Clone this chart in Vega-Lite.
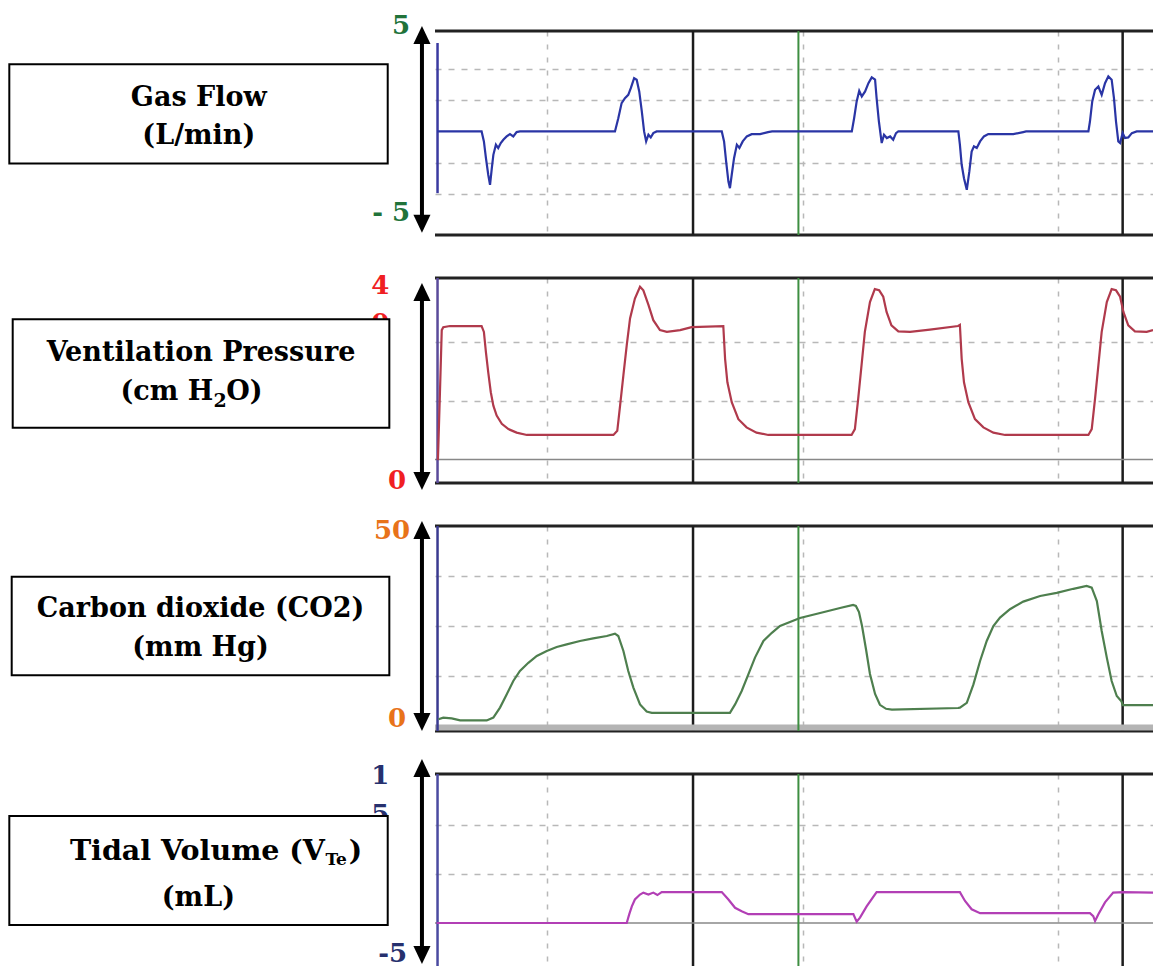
{
"$schema": "https://vega.github.io/schema/vega-lite/v6.json",
"padding": 0,
"background": "white",
"config": {"view": {"stroke": null}},
"datasets": {
"flow": [
{"t":0.570,"v":0},{"t":0.744,"v":0},{"t":0.753,"v":-0.48},{"t":0.761,"v":-1.29},{"t":0.770,"v":-2.09},{"t":0.777,"v":-2.58},{"t":0.784,"v":-1.77},{"t":0.790,"v":-1.13},{"t":0.800,"v":-0.64},{"t":0.809,"v":-0.8},{"t":0.819,"v":-0.56},{"t":0.829,"v":-0.4},{"t":0.842,"v":-0.24},{"t":0.855,"v":-0.13},{"t":0.868,"v":-0.24},{"t":0.881,"v":-0.03},{"t":0.894,"v":0},
{"t":1.266,"v":0},{"t":1.279,"v":0.64},{"t":1.292,"v":1.37},{"t":1.305,"v":1.61},{"t":1.318,"v":1.77},{"t":1.328,"v":2.09},{"t":1.341,"v":2.57},{"t":1.351,"v":2.5},{"t":1.361,"v":1.93},{"t":1.371,"v":0.97},{"t":1.380,"v":0},{"t":1.388,"v":-0.48},{"t":1.397,"v":-0.16},{"t":1.406,"v":-0.29},{"t":1.416,"v":-0.08},{"t":1.429,"v":0},
{"t":1.684,"v":0},{"t":1.693,"v":-0.48},{"t":1.701,"v":-1.45},{"t":1.710,"v":-2.42},{"t":1.716,"v":-2.74},{"t":1.723,"v":-2.09},{"t":1.732,"v":-1.29},{"t":1.743,"v":-0.64},{"t":1.753,"v":-0.8},{"t":1.766,"v":-0.48},{"t":1.782,"v":-0.24},{"t":1.801,"v":-0.13},{"t":1.834,"v":-0.13},{"t":1.865,"v":-0.03},{"t":1.881,"v":0},
{"t":2.193,"v":0},{"t":2.202,"v":0.64},{"t":2.212,"v":1.45},{"t":2.222,"v":1.96},{"t":2.232,"v":1.69},{"t":2.245,"v":1.93},{"t":2.258,"v":2.33},{"t":2.271,"v":2.61},{"t":2.284,"v":2.5},{"t":2.290,"v":1.61},{"t":2.299,"v":0.48},{"t":2.310,"v":-0.56},{"t":2.319,"v":-0.16},{"t":2.330,"v":-0.32},{"t":2.343,"v":-0.24},{"t":2.355,"v":-0.4},{"t":2.366,"v":-0.08},{"t":2.375,"v":0},
{"t":2.610,"v":0},{"t":2.616,"v":-0.64},{"t":2.623,"v":-1.61},{"t":2.632,"v":-2.26},{"t":2.643,"v":-2.82},{"t":2.653,"v":-1.93},{"t":2.662,"v":-0.97},{"t":2.671,"v":-0.72},{"t":2.682,"v":-0.8},{"t":2.695,"v":-0.48},{"t":2.710,"v":-0.24},{"t":2.727,"v":-0.13},{"t":2.825,"v":-0.13},{"t":2.864,"v":-0.03},{"t":2.875,"v":0},
{"t":3.119,"v":0},{"t":3.125,"v":0.48},{"t":3.134,"v":1.45},{"t":3.145,"v":2.01},{"t":3.158,"v":2.17},{"t":3.171,"v":1.77},{"t":3.184,"v":2.33},{"t":3.197,"v":2.66},{"t":3.210,"v":2.5},{"t":3.219,"v":1.61},{"t":3.227,"v":0.48},{"t":3.236,"v":-0.48},{"t":3.243,"v":-0.56},{"t":3.253,"v":-0.08},{"t":3.262,"v":-0.32},{"t":3.275,"v":-0.29},{"t":3.289,"v":-0.08},{"t":3.308,"v":0},{"t":3.372,"v":0}
],
"pressure": [
{"t":0.573,"v":3.9},{"t":0.581,"v":15.5},{"t":0.588,"v":26.1},{"t":0.594,"v":26.6},{"t":0.620,"v":26.8},{"t":0.744,"v":26.8},{"t":0.753,"v":25.8},{"t":0.761,"v":22.3},{"t":0.770,"v":18.9},{"t":0.780,"v":15.5},{"t":0.790,"v":13.2},{"t":0.803,"v":11.5},{"t":0.823,"v":10.1},{"t":0.849,"v":9.2},{"t":0.881,"v":8.6},{"t":0.921,"v":8.2},
{"t":1.260,"v":8.2},{"t":1.275,"v":8.9},{"t":1.286,"v":13.2},{"t":1.299,"v":18.4},{"t":1.312,"v":23.5},{"t":1.325,"v":28.1},{"t":1.344,"v":31.5},{"t":1.364,"v":33.5},{"t":1.377,"v":32.9},{"t":1.397,"v":30.4},{"t":1.416,"v":27.8},{"t":1.442,"v":26.1},{"t":1.469,"v":25.8},{"t":1.521,"v":26.1},{"t":1.566,"v":26.6},
{"t":1.690,"v":26.8},{"t":1.697,"v":21.2},{"t":1.706,"v":17.2},{"t":1.723,"v":13.8},{"t":1.749,"v":10.9},{"t":1.781,"v":9.5},{"t":1.820,"v":8.6},{"t":1.866,"v":8.2},
{"t":2.192,"v":8.2},{"t":2.205,"v":9.2},{"t":2.218,"v":14.4},{"t":2.231,"v":20.1},{"t":2.244,"v":25.8},{"t":2.264,"v":30.9},{"t":2.283,"v":33.1},{"t":2.300,"v":32.9},{"t":2.316,"v":31.8},{"t":2.329,"v":29.2},{"t":2.348,"v":26.9},{"t":2.375,"v":25.9},{"t":2.421,"v":25.8},{"t":2.499,"v":26.2},{"t":2.609,"v":26.8},
{"t":2.616,"v":27.0},{"t":2.623,"v":21.2},{"t":2.632,"v":17.2},{"t":2.649,"v":13.8},{"t":2.675,"v":10.9},{"t":2.708,"v":9.5},{"t":2.747,"v":8.6},{"t":2.793,"v":8.2},
{"t":3.119,"v":8.2},{"t":3.132,"v":9.2},{"t":3.145,"v":14.4},{"t":3.158,"v":20.1},{"t":3.171,"v":25.8},{"t":3.191,"v":30.9},{"t":3.210,"v":33.1},{"t":3.227,"v":32.9},{"t":3.243,"v":31.8},{"t":3.256,"v":29.2},{"t":3.275,"v":26.9},{"t":3.301,"v":25.9},{"t":3.347,"v":25.8},{"t":3.372,"v":26.1}
],
"co2": [
{"t":0.575,"v":1.7},{"t":0.594,"v":2.1},{"t":0.627,"v":1.9},{"t":0.660,"v":1.4},{"t":0.764,"v":1.4},{"t":0.790,"v":2.1},{"t":0.816,"v":4.6},{"t":0.842,"v":7.9},{"t":0.868,"v":11.25},{"t":0.894,"v":13.75},{"t":0.927,"v":15.8},{"t":0.960,"v":17.5},{"t":0.999,"v":18.75},{"t":1.038,"v":19.75},{"t":1.077,"v":20.4},{"t":1.129,"v":21.25},{"t":1.181,"v":21.9},{"t":1.234,"v":22.5},{"t":1.266,"v":23.1},
{"t":1.279,"v":22.5},{"t":1.299,"v":18.75},{"t":1.318,"v":13.75},{"t":1.338,"v":9.6},{"t":1.364,"v":5.4},{"t":1.390,"v":3.6},{"t":1.410,"v":3.3},{"t":1.716,"v":3.3},
{"t":1.736,"v":5.4},{"t":1.762,"v":8.75},{"t":1.788,"v":12.9},{"t":1.814,"v":17.1},{"t":1.847,"v":21.25},{"t":1.880,"v":23.3},{"t":1.912,"v":25},{"t":1.990,"v":27},{"t":2.069,"v":28.25},{"t":2.147,"v":29.5},{"t":2.198,"v":30.25},
{"t":2.209,"v":30.0},{"t":2.221,"v":28.5},{"t":2.233,"v":25},{"t":2.249,"v":19},{"t":2.264,"v":13},{"t":2.284,"v":8},{"t":2.303,"v":5.3},{"t":2.327,"v":4.3},{"t":2.350,"v":4.1},{"t":2.609,"v":4.5},
{"t":2.616,"v":4.6},{"t":2.643,"v":5.8},{"t":2.669,"v":10.4},{"t":2.695,"v":16.25},{"t":2.721,"v":21.25},{"t":2.747,"v":25},{"t":2.773,"v":27.1},{"t":2.812,"v":29.2},{"t":2.864,"v":31.1},{"t":2.930,"v":32.5},{"t":2.995,"v":33.3},{"t":3.060,"v":34.3},{"t":3.112,"v":35},
{"t":3.132,"v":34.6},{"t":3.152,"v":31.25},{"t":3.171,"v":23.75},{"t":3.191,"v":17.1},{"t":3.210,"v":11.25},{"t":3.230,"v":7.5},{"t":3.249,"v":6.1},{"t":3.253,"v":5.2},{"t":3.372,"v":5.2}
],
"volume": [
{"t":0.568,"v":0},{"t":1.312,"v":0},{"t":1.322,"v":0.9},{"t":1.332,"v":1.7},{"t":1.344,"v":2.4},{"t":1.364,"v":2.9},{"t":1.377,"v":3.1},{"t":1.397,"v":2.9},{"t":1.416,"v":3.1},{"t":1.432,"v":2.85},{"t":1.449,"v":3.15},
{"t":1.684,"v":3.15},{"t":1.710,"v":2.4},{"t":1.736,"v":1.55},{"t":1.762,"v":1.2},{"t":1.788,"v":0.9},{"t":2.199,"v":0.9},{"t":2.212,"v":0.13},{"t":2.225,"v":0.55},{"t":2.251,"v":1.7},{"t":2.290,"v":3.15},
{"t":2.616,"v":3.15},{"t":2.636,"v":2.25},{"t":2.662,"v":1.4},{"t":2.695,"v":1.0},{"t":3.125,"v":1.0},{"t":3.138,"v":0.7},{"t":3.145,"v":0.2},{"t":3.158,"v":0.9},{"t":3.184,"v":2.1},{"t":3.216,"v":3.1},{"t":3.256,"v":3.15},{"t":3.372,"v":3.1}
]
},
"columns": 2,
"spacing": {"row": 43, "column": 0},
"bounds": "flush",
"concat": [
{
"width": 435, "height": 204,
"data": {"values": [{}]},
"layer": [
{"mark": {"type": "rule", "opacity": 0, "strokeWidth": 0},
 "encoding": {"x": {"datum": 0, "type": "quantitative", "scale": {"domain": [0, 100], "nice": false, "zero": false}, "axis": null},
  "y": {"datum": 114.8, "type": "quantitative", "scale": {"domain": [0, 100], "nice": false, "zero": false}, "axis": null}, "y2": {"datum": 100}}},
{"mark": {"type": "text", "text": "5", "font": "DejaVu Serif", "fontWeight": "bold", "fontSize": 26, "fill": "#21733a", "align": "right", "baseline": "middle"},
 "encoding": {"x": {"datum": 94.3, "type": "quantitative", "axis": null}, "y": {"datum": 102.5, "type": "quantitative", "axis": null}}},
{"mark": {"type": "text", "text": "- 5", "font": "DejaVu Serif", "fontWeight": "bold", "fontSize": 26, "fill": "#21733a", "align": "right", "baseline": "middle"},
 "encoding": {"x": {"datum": 94.3, "type": "quantitative", "axis": null}, "y": {"datum": 10.8, "type": "quantitative", "axis": null}}},
{"mark": {"type": "rule", "stroke": "black", "strokeWidth": 4},
 "encoding": {"x": {"datum": 97.0, "type": "quantitative", "axis": null}, "y": {"datum": 98.0, "type": "quantitative", "axis": null}, "y2": {"datum": 5.5}}},
{"mark": {"type": "point", "shape": "M0,-1L0.95,1L-0.95,1Z", "size": 324, "filled": true, "fill": "black", "opacity": 1, "strokeWidth": 0},
 "encoding": {"x": {"datum": 97.0, "type": "quantitative", "axis": null}, "y": {"datum": 98.0, "type": "quantitative", "axis": null}}},
{"mark": {"type": "point", "shape": "M0,1L0.95,-1L-0.95,-1Z", "size": 324, "filled": true, "fill": "black", "opacity": 1, "strokeWidth": 0},
 "encoding": {"x": {"datum": 97.0, "type": "quantitative", "axis": null}, "y": {"datum": 5.5, "type": "quantitative", "axis": null}}},
{"mark": {"type": "rect", "fill": "white", "stroke": "black", "strokeWidth": 2},
 "encoding": {"x": {"datum": 2.14, "type": "quantitative", "axis": null}, "x2": {"datum": 89.13}, "y": {"datum": 83.7, "type": "quantitative", "axis": null}, "y2": {"datum": 35.0}}},
{"mark": {"type": "text", "text": "Gas Flow", "font": "DejaVu Serif", "fontWeight": "bold", "fontSize": 27, "fill": "black", "align": "center", "baseline": "middle"},
 "encoding": {"x": {"datum": 45.7, "type": "quantitative", "axis": null}, "y": {"datum": 67.3, "type": "quantitative", "axis": null}}},
{"mark": {"type": "text", "text": "(L/min)", "font": "DejaVu Serif", "fontWeight": "bold", "fontSize": 27, "fill": "black", "align": "center", "baseline": "middle"},
 "encoding": {"x": {"datum": 45.7, "type": "quantitative", "axis": null}, "y": {"datum": 48.5, "type": "quantitative", "axis": null}}}
]
},
{
"width": 718, "height": 204,
"data": {"values": [{}]},
"layer": [
{"data": {"values": [{"v": 4.85}, {"v": -5}]},
 "mark": {"type": "rule", "stroke": "#222222", "strokeWidth": 3},
 "encoding": {"y": {"field": "v", "type": "quantitative", "scale": {"domain": [-5, 4.85], "nice": false, "zero": false},
  "axis": {"values": [-3, -1.5, 1.5, 3], "grid": true, "gridDash": [6, 7], "gridColor": "#b8b8b8", "gridWidth": 1.5, "labels": false, "ticks": false, "domain": false, "title": null}}}},
{"data": {"values": [{"t": 1.5715}, {"t": 3.253}]},
 "mark": {"type": "rule", "stroke": "#1c1c1c", "strokeWidth": 2.5},
 "encoding": {"x": {"field": "t", "type": "quantitative", "scale": {"domain": [0.5616, 3.3718], "nice": false, "zero": false},
  "axis": {"values": [1, 2, 3], "grid": true, "gridDash": [5, 8], "gridColor": "#b8b8b8", "gridWidth": 1.5, "labels": false, "ticks": false, "domain": false, "title": null}}}},
{"mark": {"type": "rule", "stroke": "#3e8e41", "strokeWidth": 2},
 "encoding": {"x": {"datum": 1.984, "type": "quantitative"}}},
{"mark": {"type": "rule", "stroke": "#3a3aa0", "strokeWidth": 2.5},
 "encoding": {"x": {"datum": 0.5715, "type": "quantitative"}, "y": {"datum": 4.27, "type": "quantitative"}, "y2": {"datum": -2.98}}},
{"data": {"name": "flow"},
 "mark": {"type": "line", "stroke": "#2a35a5", "strokeWidth": 2.2},
 "encoding": {"x": {"field": "t", "type": "quantitative"}, "y": {"field": "v", "type": "quantitative"}}}
]
},
{
"width": 435, "height": 205,
"data": {"values": [{}]},
"layer": [
{"mark": {"type": "text", "text": "4", "font": "DejaVu Serif", "fontWeight": "bold", "fontSize": 26, "fill": "#f01e23", "align": "center", "baseline": "middle"},
 "encoding": {"x": {"datum": 87.4, "type": "quantitative", "scale": {"domain": [0, 100], "nice": false, "zero": false}, "axis": null}, "y": {"datum": 96.1, "type": "quantitative", "scale": {"domain": [0, 100], "nice": false, "zero": false}, "axis": null}}},
{"mark": {"type": "text", "text": "0", "font": "DejaVu Serif", "fontWeight": "bold", "fontSize": 26, "fill": "#f01e23", "align": "center", "baseline": "middle"},
 "encoding": {"x": {"datum": 87.4, "type": "quantitative", "axis": null}, "y": {"datum": 77.5, "type": "quantitative", "axis": null}}},
{"mark": {"type": "text", "text": "0", "font": "DejaVu Serif", "fontWeight": "bold", "fontSize": 26, "fill": "#f01e23", "align": "center", "baseline": "middle"},
 "encoding": {"x": {"datum": 91.3, "type": "quantitative", "axis": null}, "y": {"datum": 1.0, "type": "quantitative", "axis": null}}},
{"mark": {"type": "rule", "stroke": "black", "strokeWidth": 4},
 "encoding": {"x": {"datum": 97.0, "type": "quantitative", "axis": null}, "y": {"datum": 93.2, "type": "quantitative", "axis": null}, "y2": {"datum": 1.0}}},
{"mark": {"type": "point", "shape": "M0,-1L0.95,1L-0.95,1Z", "size": 324, "filled": true, "fill": "black", "opacity": 1, "strokeWidth": 0},
 "encoding": {"x": {"datum": 97.0, "type": "quantitative", "axis": null}, "y": {"datum": 93.2, "type": "quantitative", "axis": null}}},
{"mark": {"type": "point", "shape": "M0,1L0.95,-1L-0.95,-1Z", "size": 324, "filled": true, "fill": "black", "opacity": 1, "strokeWidth": 0},
 "encoding": {"x": {"datum": 97.0, "type": "quantitative", "axis": null}, "y": {"datum": 1.0, "type": "quantitative", "axis": null}}},
{"mark": {"type": "rect", "fill": "white", "stroke": "black", "strokeWidth": 2},
 "encoding": {"x": {"datum": 2.92, "type": "quantitative", "axis": null}, "x2": {"datum": 89.5}, "y": {"datum": 79.9, "type": "quantitative", "axis": null}, "y2": {"datum": 27.0}}},
{"mark": {"type": "text", "text": "Ventilation Pressure", "font": "DejaVu Serif", "fontWeight": "bold", "fontSize": 27, "fill": "black", "align": "center", "baseline": "middle"},
 "encoding": {"x": {"datum": 46.2, "type": "quantitative", "axis": null}, "y": {"datum": 63.3, "type": "quantitative", "axis": null}}},
{"mark": {"type": "text", "text": "(cm H", "font": "DejaVu Serif", "fontWeight": "bold", "fontSize": 27, "fill": "black", "align": "right", "baseline": "middle"},
 "encoding": {"x": {"datum": 49.0, "type": "quantitative", "axis": null}, "y": {"datum": 44.5, "type": "quantitative", "axis": null}}},
{"mark": {"type": "text", "text": "2", "font": "DejaVu Serif", "fontWeight": "bold", "fontSize": 19, "fill": "black", "align": "left", "baseline": "middle", "dy": 9},
 "encoding": {"x": {"datum": 49.1, "type": "quantitative", "axis": null}, "y": {"datum": 44.5, "type": "quantitative", "axis": null}}},
{"mark": {"type": "text", "text": "O)", "font": "DejaVu Serif", "fontWeight": "bold", "fontSize": 27, "fill": "black", "align": "left", "baseline": "middle"},
 "encoding": {"x": {"datum": 52.0, "type": "quantitative", "axis": null}, "y": {"datum": 44.5, "type": "quantitative", "axis": null}}}
]
},
{
"width": 718, "height": 205,
"data": {"values": [{}]},
"layer": [
{"data": {"values": [{"v": 35}, {"v": 0}]},
 "mark": {"type": "rule", "stroke": "#222222", "strokeWidth": 3},
 "encoding": {"y": {"field": "v", "type": "quantitative", "scale": {"domain": [0, 35], "nice": false, "zero": false},
  "axis": {"values": [14, 24], "grid": true, "gridDash": [6, 7], "gridColor": "#b8b8b8", "gridWidth": 1.5, "labels": false, "ticks": false, "domain": false, "title": null}}}},
{"data": {"values": [{"t": 1.5715}, {"t": 3.253}]},
 "mark": {"type": "rule", "stroke": "#1c1c1c", "strokeWidth": 2.5},
 "encoding": {"x": {"field": "t", "type": "quantitative", "scale": {"domain": [0.5616, 3.3718], "nice": false, "zero": false},
  "axis": {"values": [1, 2, 3], "grid": true, "gridDash": [5, 8], "gridColor": "#b8b8b8", "gridWidth": 1.5, "labels": false, "ticks": false, "domain": false, "title": null}}}},
{"mark": {"type": "rule", "stroke": "#888888", "strokeWidth": 1.5},
 "encoding": {"y": {"datum": 4, "type": "quantitative"}}},
{"mark": {"type": "rule", "stroke": "#3e8e41", "strokeWidth": 2},
 "encoding": {"x": {"datum": 1.984, "type": "quantitative"}}},
{"mark": {"type": "rule", "stroke": "#5a4a9a", "strokeWidth": 2.5},
 "encoding": {"x": {"datum": 0.5715, "type": "quantitative"}}},
{"data": {"name": "pressure"},
 "mark": {"type": "line", "stroke": "#b03a4c", "strokeWidth": 2.2},
 "encoding": {"x": {"field": "t", "type": "quantitative"}, "y": {"field": "v", "type": "quantitative"}}}
]
},
{
"width": 435, "height": 205,
"data": {"values": [{}]},
"layer": [
{"mark": {"type": "text", "text": "50", "font": "DejaVu Serif", "fontWeight": "bold", "fontSize": 26, "fill": "#e8731a", "align": "right", "baseline": "middle"},
 "encoding": {"x": {"datum": 94.3, "type": "quantitative", "scale": {"domain": [0, 100], "nice": false, "zero": false}, "axis": null}, "y": {"datum": 97.6, "type": "quantitative", "scale": {"domain": [0, 100], "nice": false, "zero": false}, "axis": null}}},
{"mark": {"type": "text", "text": "0", "font": "DejaVu Serif", "fontWeight": "bold", "fontSize": 26, "fill": "#e8731a", "align": "center", "baseline": "middle"},
 "encoding": {"x": {"datum": 91.3, "type": "quantitative", "axis": null}, "y": {"datum": 5.9, "type": "quantitative", "axis": null}}},
{"mark": {"type": "rule", "stroke": "black", "strokeWidth": 4},
 "encoding": {"x": {"datum": 97.0, "type": "quantitative", "axis": null}, "y": {"datum": 98.0, "type": "quantitative", "axis": null}, "y2": {"datum": 4.4}}},
{"mark": {"type": "point", "shape": "M0,-1L0.95,1L-0.95,1Z", "size": 324, "filled": true, "fill": "black", "opacity": 1, "strokeWidth": 0},
 "encoding": {"x": {"datum": 97.0, "type": "quantitative", "axis": null}, "y": {"datum": 98.0, "type": "quantitative", "axis": null}}},
{"mark": {"type": "point", "shape": "M0,1L0.95,-1L-0.95,-1Z", "size": 324, "filled": true, "fill": "black", "opacity": 1, "strokeWidth": 0},
 "encoding": {"x": {"datum": 97.0, "type": "quantitative", "axis": null}, "y": {"datum": 4.4, "type": "quantitative", "axis": null}}},
{"mark": {"type": "rect", "fill": "white", "stroke": "black", "strokeWidth": 2},
 "encoding": {"x": {"datum": 2.69, "type": "quantitative", "axis": null}, "x2": {"datum": 89.5}, "y": {"datum": 75.3, "type": "quantitative", "axis": null}, "y2": {"datum": 27.2}}},
{"mark": {"type": "text", "text": "Carbon dioxide (CO2)", "font": "DejaVu Serif", "fontWeight": "bold", "fontSize": 27, "fill": "black", "align": "center", "baseline": "middle"},
 "encoding": {"x": {"datum": 46.1, "type": "quantitative", "axis": null}, "y": {"datum": 59.4, "type": "quantitative", "axis": null}}},
{"mark": {"type": "text", "text": "(mm Hg)", "font": "DejaVu Serif", "fontWeight": "bold", "fontSize": 27, "fill": "black", "align": "center", "baseline": "middle"},
 "encoding": {"x": {"datum": 46.1, "type": "quantitative", "axis": null}, "y": {"datum": 40.6, "type": "quantitative", "axis": null}}}
]
},
{
"width": 718, "height": 205,
"data": {"values": [{}]},
"layer": [
{"data": {"values": [{"v": 50}, {"v": -1.25}]},
 "mark": {"type": "rule", "stroke": "#222222", "strokeWidth": 3},
 "encoding": {"y": {"field": "v", "type": "quantitative", "scale": {"domain": [-1.25, 50], "nice": false, "zero": false},
  "axis": {"values": [12.5, 25, 37.5], "grid": true, "gridDash": [6, 7], "gridColor": "#b8b8b8", "gridWidth": 1.5, "labels": false, "ticks": false, "domain": false, "title": null}}}},
{"data": {"values": [{"t": 1.5715}, {"t": 3.253}]},
 "mark": {"type": "rule", "stroke": "#1c1c1c", "strokeWidth": 2.5},
 "encoding": {"x": {"field": "t", "type": "quantitative", "scale": {"domain": [0.5616, 3.3718], "nice": false, "zero": false},
  "axis": {"values": [1, 2, 3], "grid": true, "gridDash": [5, 8], "gridColor": "#b8b8b8", "gridWidth": 1.5, "labels": false, "ticks": false, "domain": false, "title": null}}}},
{"mark": {"type": "rule", "stroke": "#b4b4b4", "strokeWidth": 6},
 "encoding": {"y": {"datum": -0.35, "type": "quantitative"}}},
{"mark": {"type": "rule", "stroke": "#3e8e41", "strokeWidth": 2},
 "encoding": {"x": {"datum": 1.984, "type": "quantitative"}}},
{"mark": {"type": "rule", "stroke": "#3a3a90", "strokeWidth": 2.5},
 "encoding": {"x": {"datum": 0.5715, "type": "quantitative"}}},
{"data": {"name": "co2"},
 "mark": {"type": "line", "stroke": "#4e7f4e", "strokeWidth": 2.2},
 "encoding": {"x": {"field": "t", "type": "quantitative"}, "y": {"field": "v", "type": "quantitative"}}}
]
},
{
"width": 435, "height": 198,
"data": {"values": [{}]},
"layer": [
{"mark": {"type": "text", "text": "1", "font": "DejaVu Serif", "fontWeight": "bold", "fontSize": 26, "fill": "#26306e", "align": "center", "baseline": "middle"},
 "encoding": {"x": {"datum": 87.4, "type": "quantitative", "scale": {"domain": [0, 100], "nice": false, "zero": false}, "axis": null}, "y": {"datum": 99.0, "type": "quantitative", "scale": {"domain": [0, 100], "nice": false, "zero": false}, "axis": null}}},
{"mark": {"type": "text", "text": "5", "font": "DejaVu Serif", "fontWeight": "bold", "fontSize": 26, "fill": "#26306e", "align": "center", "baseline": "middle"},
 "encoding": {"x": {"datum": 87.4, "type": "quantitative", "axis": null}, "y": {"datum": 79.5, "type": "quantitative", "axis": null}}},
{"mark": {"type": "text", "text": "-5", "font": "DejaVu Serif", "fontWeight": "bold", "fontSize": 26, "fill": "#26306e", "align": "right", "baseline": "middle"},
 "encoding": {"x": {"datum": 93.6, "type": "quantitative", "axis": null}, "y": {"datum": 9.2, "type": "quantitative", "axis": null}}},
{"mark": {"type": "rule", "stroke": "black", "strokeWidth": 4},
 "encoding": {"x": {"datum": 97.0, "type": "quantitative", "axis": null}, "y": {"datum": 103.0, "type": "quantitative", "axis": null}, "y2": {"datum": 8.6}}},
{"mark": {"type": "point", "shape": "M0,-1L0.95,1L-0.95,1Z", "size": 324, "filled": true, "fill": "black", "opacity": 1, "strokeWidth": 0},
 "encoding": {"x": {"datum": 97.0, "type": "quantitative", "axis": null}, "y": {"datum": 103.0, "type": "quantitative", "axis": null}}},
{"mark": {"type": "point", "shape": "M0,1L0.95,-1L-0.95,-1Z", "size": 324, "filled": true, "fill": "black", "opacity": 1, "strokeWidth": 0},
 "encoding": {"x": {"datum": 97.0, "type": "quantitative", "axis": null}, "y": {"datum": 8.6, "type": "quantitative", "axis": null}}},
{"mark": {"type": "rect", "fill": "white", "stroke": "black", "strokeWidth": 2},
 "encoding": {"x": {"datum": 2.14, "type": "quantitative", "axis": null}, "x2": {"datum": 89.13}, "y": {"datum": 78.8, "type": "quantitative", "axis": null}, "y2": {"datum": 23.7}}},
{"mark": {"type": "text", "text": "Tidal Volume (V", "font": "DejaVu Serif", "fontWeight": "bold", "fontSize": 28.5, "fill": "black", "align": "right", "baseline": "middle"},
 "encoding": {"x": {"datum": 74.7, "type": "quantitative", "axis": null}, "y": {"datum": 61.1, "type": "quantitative", "axis": null}}},
{"mark": {"type": "text", "text": "Te", "font": "DejaVu Serif", "fontWeight": "bold", "fontSize": 17, "fill": "black", "align": "left", "baseline": "middle", "dy": 9},
 "encoding": {"x": {"datum": 74.8, "type": "quantitative", "axis": null}, "y": {"datum": 61.1, "type": "quantitative", "axis": null}}},
{"mark": {"type": "text", "text": ")", "font": "DejaVu Serif", "fontWeight": "bold", "fontSize": 28.5, "fill": "black", "align": "left", "baseline": "middle"},
 "encoding": {"x": {"datum": 80.2, "type": "quantitative", "axis": null}, "y": {"datum": 61.1, "type": "quantitative", "axis": null}}},
{"mark": {"type": "text", "text": "(mL)", "font": "DejaVu Serif", "fontWeight": "bold", "fontSize": 27, "fill": "black", "align": "center", "baseline": "middle"},
 "encoding": {"x": {"datum": 45.6, "type": "quantitative", "axis": null}, "y": {"datum": 37.5, "type": "quantitative", "axis": null}}}
]
},
{
"width": 718, "height": 198,
"data": {"values": [{}]},
"layer": [
{"data": {"values": [{"v": 15.2}]},
 "mark": {"type": "rule", "stroke": "#222222", "strokeWidth": 3},
 "encoding": {"y": {"field": "v", "type": "quantitative", "scale": {"domain": [-5, 15.2], "nice": false, "zero": false},
  "axis": {"values": [5, 10], "grid": true, "gridDash": [6, 7], "gridColor": "#b8b8b8", "gridWidth": 1.5, "labels": false, "ticks": false, "domain": false, "title": null}}}},
{"data": {"values": [{"t": 1.5715}, {"t": 3.253}]},
 "mark": {"type": "rule", "stroke": "#1c1c1c", "strokeWidth": 2.5},
 "encoding": {"x": {"field": "t", "type": "quantitative", "scale": {"domain": [0.5616, 3.3718], "nice": false, "zero": false},
  "axis": {"values": [1, 2, 3], "grid": true, "gridDash": [5, 8], "gridColor": "#b8b8b8", "gridWidth": 1.5, "labels": false, "ticks": false, "domain": false, "title": null}}}},
{"mark": {"type": "rule", "stroke": "#888888", "strokeWidth": 1.5},
 "encoding": {"y": {"datum": 0, "type": "quantitative"}}},
{"mark": {"type": "rule", "stroke": "#3e8e41", "strokeWidth": 2},
 "encoding": {"x": {"datum": 1.984, "type": "quantitative"}}},
{"mark": {"type": "rule", "stroke": "#4a4aa0", "strokeWidth": 2.5},
 "encoding": {"x": {"datum": 0.5715, "type": "quantitative"}}},
{"data": {"name": "volume"},
 "mark": {"type": "line", "stroke": "#b23fb5", "strokeWidth": 2.2},
 "encoding": {"x": {"field": "t", "type": "quantitative"}, "y": {"field": "v", "type": "quantitative"}}}
]
}
]
}
